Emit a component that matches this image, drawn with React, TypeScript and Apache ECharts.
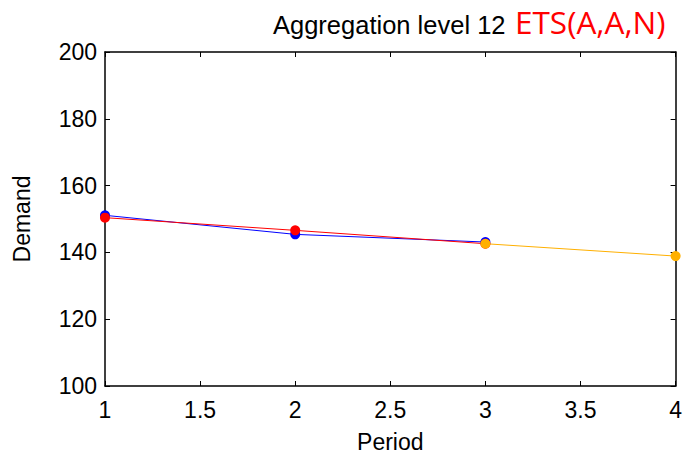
import React, { useEffect, useRef } from "react";
import * as echarts from "echarts";

const periods = [1, 2, 3, 4];
const actual = [151.1, 145.4, 143.1];
const fitted = [150.4, 146.6, 142.6];
const forecastPeriods = [3, 4];
const forecast = [142.6, 138.9];
const yTicks = [100, 120, 140, 160, 180, 200];

const FONT = "Liberation Sans, Arial, sans-serif";

export default function App() {
  const ref = useRef<HTMLDivElement>(null);
  useEffect(() => {
    const chart = echarts.init(ref.current!, null, { renderer: "svg" });
    const mk = (xs: number[], ys: number[]) => xs.slice(0, ys.length).map((x, i) => [x, ys[i]]);
    const tickStyle = { show: true, inside: true, length: 5, lineStyle: { color: "#000", width: 1 } };
    chart.setOption({
      animation: false,
      backgroundColor: "#fff",
      graphic: [
        {
          type: "text",
          left: 273,
          top: 12,
          style: { text: "Aggregation level 12", fill: "#000", font: `25.5px ${FONT}` },
        },
        {
          type: "text",
          left: 515,
          top: 5,
          style: { text: "ETS(A,A,N)", fill: "#ff0000", font: `31.5px "Open Sans", sans-serif` },
        },
      ],
      grid: { left: 105, right: 8, top: 52, bottom: 71, containLabel: false },
      xAxis: [
        {
          type: "value",
          min: 1,
          max: 4,
          interval: 0.5,
          name: "Period",
          nameLocation: "middle",
          nameGap: 44,
          nameTextStyle: { color: "#000", fontSize: 23, fontFamily: FONT },
          axisLine: { show: true, onZero: false, lineStyle: { color: "#000", width: 1.5 } },
          axisTick: tickStyle,
          axisLabel: { color: "#000", fontSize: 23, fontFamily: FONT, margin: 12 },
          splitLine: { show: false },
        },
        {
          type: "value",
          position: "top",
          min: 1,
          max: 4,
          interval: 0.5,
          axisLine: { show: true, onZero: false, lineStyle: { color: "#000", width: 1.5 } },
          axisTick: tickStyle,
          axisLabel: { show: false },
          splitLine: { show: false },
        },
      ],
      yAxis: [
        {
          type: "value",
          min: yTicks[0],
          max: yTicks[yTicks.length - 1],
          interval: 20,
          name: "Demand",
          nameLocation: "middle",
          nameGap: 72,
          nameTextStyle: { color: "#000", fontSize: 23, fontFamily: FONT },
          axisLine: { show: true, onZero: false, lineStyle: { color: "#000", width: 1.5 } },
          axisTick: tickStyle,
          axisLabel: { color: "#000", fontSize: 23, fontFamily: FONT, margin: 8 },
          splitLine: { show: false },
        },
        {
          type: "value",
          position: "right",
          min: yTicks[0],
          max: yTicks[yTicks.length - 1],
          interval: 20,
          axisLine: { show: true, onZero: false, lineStyle: { color: "#000", width: 1.5 } },
          axisTick: tickStyle,
          axisLabel: { show: false },
          splitLine: { show: false },
        },
      ],
      series: [
        {
          type: "line",
          data: mk(periods, actual),
          symbol: "circle",
          symbolSize: 10,
          itemStyle: { color: "#0000ff" },
          lineStyle: { color: "#0000ff", width: 1 },
        },
        {
          type: "line",
          data: mk(periods, fitted),
          symbol: "circle",
          symbolSize: 10,
          itemStyle: { color: "#ff0000" },
          lineStyle: { color: "#ff0000", width: 1 },
        },
        {
          type: "line",
          data: mk(forecastPeriods, forecast),
          symbol: "circle",
          symbolSize: 10,
          itemStyle: { color: "#ffb000" },
          lineStyle: { color: "#ffb000", width: 1 },
        },
      ],
    });
    return () => chart.dispose();
  }, []);
  return <div ref={ref} style={{ width: 685, height: 458, position: "absolute", left: 0, top: 0 }} />;
}
